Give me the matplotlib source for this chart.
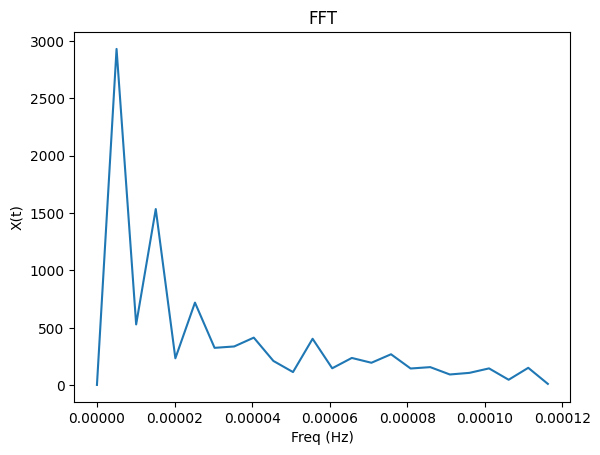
import numpy as np
import matplotlib
matplotlib.use('Agg')
import matplotlib.pyplot as plt

# Frequency bins (Hz)
freq = [0.0, 5.055e-6, 1.011e-5, 1.5165e-5, 2.022e-5, 2.5275e-5, 3.033e-5, 3.5385e-5,
        4.044e-5, 4.5495e-5, 5.055e-5, 5.5605e-5, 6.066e-5, 6.5715e-5, 7.077e-5,
        7.5825e-5, 8.088e-5, 8.5935e-5, 9.099e-5, 9.6045e-5, 1.011e-4, 1.06155e-4,
        1.1121e-4, 1.16265e-4]

# FFT magnitude
magnitude = [3, 2930, 530, 1535, 235, 720, 326, 338, 415, 212, 115, 405,
             148, 238, 196, 270, 146, 158, 94, 108, 147, 48, 152, 12]

if __name__ == '__main__':
    plt.figure(figsize=(6.4, 4.8))
    plt.plot(freq, magnitude)
    plt.title('FFT')
    plt.xlabel('Freq (Hz)')
    plt.ylabel('X(t)')
    plt.savefig('out.png', bbox_inches='tight')
